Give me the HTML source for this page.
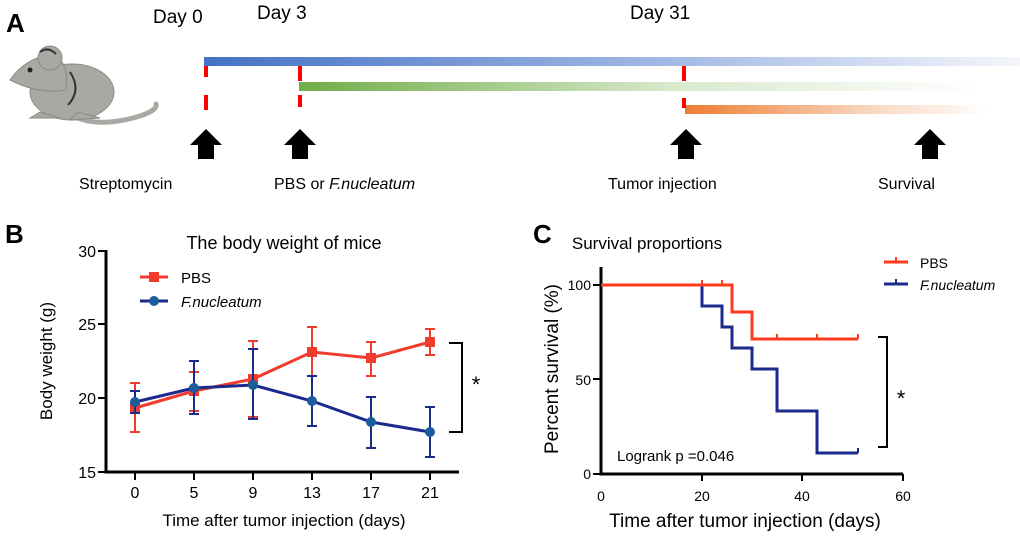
<!DOCTYPE html>
<html><head><meta charset="utf-8"><style>
html,body{margin:0;padding:0;background:#fff;}
svg{display:block;font-family:"Liberation Sans",sans-serif;}
</style></head><body>
<svg width="1020" height="536" viewBox="0 0 1020 536" xmlns="http://www.w3.org/2000/svg">
<defs>
<linearGradient id="gb" x1="0" x2="1"><stop offset="0" stop-color="#4472c4"/><stop offset="0.6" stop-color="#a8bde6"/><stop offset="1" stop-color="#f4f6fb"/></linearGradient>
<linearGradient id="gg" x1="0" x2="1"><stop offset="0" stop-color="#70ad47"/><stop offset="0.55" stop-color="#d8e9cd"/><stop offset="1" stop-color="#ffffff"/></linearGradient>
<linearGradient id="go" x1="0" x2="1"><stop offset="0" stop-color="#ed7d31"/><stop offset="0.6" stop-color="#f8d6bf"/><stop offset="1" stop-color="#ffffff"/></linearGradient>
</defs>
<!-- Panel A -->
<text x="6" y="32" font-size="26" font-weight="bold">A</text>
<text x="153" y="23" font-size="19">Day 0</text>
<text x="257" y="19" font-size="19">Day 3</text>
<text x="630" y="19" font-size="19">Day 31</text>
<!-- mouse -->
<path d="M75,117 Q100,128 140,116 Q158,110 156,104" fill="none" stroke="#a9a9a4" stroke-width="5" stroke-linecap="round"/>
<g fill="#a9a9a4" stroke="#8a8a86" stroke-width="1">
<ellipse cx="72" cy="92" rx="42" ry="28"/>
<path d="M10,80 Q25,58 52,54 Q70,62 66,90 Q40,95 10,80Z"/>
<ellipse cx="50" cy="58" rx="12" ry="12"/>
<path d="M40,112 L30,118 L60,118 Z"/>
<path d="M78,112 L70,120 L100,118 Z"/>
</g>
<path d="M40,52 Q48,46 56,54" fill="none" stroke="#333" stroke-width="2"/>
<path d="M70,72 Q82,90 68,105" fill="none" stroke="#333" stroke-width="2"/>
<circle cx="30" cy="70" r="2.5" fill="#222"/>
<!-- bars -->
<rect x="204" y="57" width="816" height="9" fill="url(#gb)"/>
<rect x="299" y="82" width="680" height="9" fill="url(#gg)"/>
<rect x="685" y="105" width="305" height="9" fill="url(#go)"/>
<g fill="#ff0000">
<rect x="204" y="66" width="4" height="11"/><rect x="204" y="95" width="4" height="15"/>
<rect x="298" y="66" width="4" height="15"/><rect x="298" y="95" width="4" height="12"/>
<rect x="682" y="66" width="4" height="15"/><rect x="682" y="98" width="4" height="10"/>
</g>
<g fill="#000">
<path d="M190,145 L206,129 L222,145 L214,145 L214,159 L198,159 L198,145Z"/>
<path d="M284,145 L300,129 L316,145 L308,145 L308,159 L292,159 L292,145Z"/>
<path d="M670,145 L686,129 L702,145 L694,145 L694,159 L678,159 L678,145Z"/>
<path d="M914,145 L930,129 L946,145 L938,145 L938,159 L922,159 L922,145Z"/>
</g>
<g font-size="16">
<text x="79" y="189">Streptomycin</text>
<text x="274" y="189">PBS or <tspan font-style="italic">F.nucleatum</tspan></text>
<text x="608" y="189">Tumor injection</text>
<text x="878" y="189">Survival</text>
</g>
<!-- Panel B -->
<text x="5" y="243" font-size="26" font-weight="bold">B</text>
<text x="284" y="249" font-size="18" text-anchor="middle">The body weight of mice</text>
<g stroke="#000" stroke-width="3" fill="none">
<path d="M106,250 V472 H459"/>
</g>
<g stroke="#000" stroke-width="2">
<line x1="98" y1="251" x2="106" y2="251"/><line x1="98" y1="324" x2="106" y2="324"/><line x1="98" y1="398" x2="106" y2="398"/><line x1="98" y1="472" x2="106" y2="472"/>
<line x1="135" y1="472" x2="135" y2="480"/><line x1="194" y1="472" x2="194" y2="480"/><line x1="253" y1="472" x2="253" y2="480"/><line x1="312" y1="472" x2="312" y2="480"/><line x1="371" y1="472" x2="371" y2="480"/><line x1="430" y1="472" x2="430" y2="480"/>
</g>
<g font-size="16" text-anchor="end">
<text x="96" y="257">30</text><text x="96" y="330">25</text><text x="96" y="404">20</text><text x="96" y="478">15</text>
</g>
<g font-size="16" text-anchor="middle">
<text x="135" y="498">0</text><text x="194" y="498">5</text><text x="253" y="498">9</text><text x="312" y="498">13</text><text x="371" y="498">17</text><text x="430" y="498">21</text>
</g>
<text x="284" y="526" font-size="17" text-anchor="middle">Time after tumor  injection (days)</text>
<text transform="translate(52,361) rotate(-90)" font-size="17" text-anchor="middle">Body weight (g)</text>
<!-- legend B -->
<line x1="140" y1="277" x2="168" y2="277" stroke="#f03c2c" stroke-width="3"/><rect x="149" y="272" width="10" height="10" fill="#f03c2c"/>
<text x="181" y="283" font-size="15">PBS</text>
<line x1="140" y1="301" x2="168" y2="301" stroke="#1a2b8c" stroke-width="3"/><circle cx="154" cy="301" r="5" fill="#1a5c9c"/>
<text x="181" y="307" font-size="15" font-style="italic">F.nucleatum</text>
<!-- PBS -->
<g stroke="#f03c2c" stroke-width="2" fill="none">
<path d="M135,432V383M130,432h10M130,383h10"/>
<path d="M194,411V372M189,411h10M189,372h10"/>
<path d="M253,417V341M248,417h10M248,341h10"/>
<path d="M312,376V327M307,376h10M307,327h10"/>
<path d="M371,376V342M366,376h10M366,342h10"/>
<path d="M430,355V329M425,355h10M425,329h10"/>
</g>
<polyline points="135,408 194,391 253,379 312,352 371,358 430,342" fill="none" stroke="#f03c2c" stroke-width="3"/>
<g fill="#f03c2c">
<rect x="130" y="403" width="10" height="10"/><rect x="189" y="386" width="10" height="10"/><rect x="248" y="374" width="10" height="10"/><rect x="307" y="347" width="10" height="10"/><rect x="366" y="353" width="10" height="10"/><rect x="425" y="337" width="10" height="10"/>
</g>
<!-- FN -->
<g stroke="#1a2b8c" stroke-width="2" fill="none">
<path d="M135,413V391M130,413h10M130,391h10"/>
<path d="M194,414V361M189,414h10M189,361h10"/>
<path d="M253,419V349M248,419h10M248,349h10"/>
<path d="M312,426V376M307,426h10M307,376h10"/>
<path d="M371,448V397M366,448h10M366,397h10"/>
<path d="M430,457V407M425,457h10M425,407h10"/>
</g>
<polyline points="135,402 194,388 253,385 312,401 371,422 430,432" fill="none" stroke="#1a2b8c" stroke-width="3"/>
<g fill="#1a5c9c">
<circle cx="135" cy="402" r="5"/><circle cx="194" cy="388" r="5"/><circle cx="253" cy="385" r="5"/><circle cx="312" cy="401" r="5"/><circle cx="371" cy="422" r="5"/><circle cx="430" cy="432" r="5"/>
</g>
<path d="M449,343H462V432H449" fill="none" stroke="#000" stroke-width="2"/>
<text x="476" y="392" font-size="22" text-anchor="middle">*</text>
<!-- Panel C -->
<text x="533" y="243" font-size="26" font-weight="bold">C</text>
<text x="647" y="249" font-size="17" text-anchor="middle">Survival proportions</text>
<path d="M601,267V474H903" fill="none" stroke="#000" stroke-width="3"/>
<g stroke="#000" stroke-width="2">
<line x1="593" y1="285" x2="601" y2="285"/><line x1="593" y1="379" x2="601" y2="379"/><line x1="593" y1="474" x2="601" y2="474"/>
<line x1="702" y1="474" x2="702" y2="481"/><line x1="802" y1="474" x2="802" y2="481"/><line x1="903" y1="474" x2="903" y2="481"/>
</g>
<g font-size="14" text-anchor="end">
<text x="591" y="290">100</text><text x="591" y="385">50</text><text x="591" y="479">0</text>
</g>
<g font-size="14" text-anchor="middle">
<text x="601" y="501">0</text><text x="702" y="501">20</text><text x="802" y="501">40</text><text x="903" y="501">60</text>
</g>
<text x="745" y="527" font-size="19" text-anchor="middle">Time after tumor  injection (days)</text>
<text transform="translate(558,369) rotate(-90)" font-size="19" text-anchor="middle">Percent survival  (%)</text>
<text x="617" y="461" font-size="15">Logrank p =0.046</text>
<path d="M601,285H702V306H722V327H732V348H752V369H777V411H817V453H858" fill="none" stroke="#1a2b8c" stroke-width="3"/>
<path d="M601,285H732V312H752V339H858" fill="none" stroke="#ff3a1e" stroke-width="3"/>
<g stroke="#ff3a1e" stroke-width="2">
<line x1="702" y1="280" x2="702" y2="285"/><line x1="722" y1="280" x2="722" y2="285"/><line x1="777" y1="334" x2="777" y2="339"/><line x1="817" y1="334" x2="817" y2="339"/><line x1="858" y1="334" x2="858" y2="339"/>
</g>
<line x1="858" y1="448" x2="858" y2="453" stroke="#1a2b8c" stroke-width="2"/>
<line x1="884" y1="262" x2="908" y2="262" stroke="#ff3a1e" stroke-width="3"/><line x1="896" y1="257" x2="896" y2="262" stroke="#ff3a1e" stroke-width="2"/>
<text x="920" y="268" font-size="14">PBS</text>
<line x1="884" y1="284" x2="908" y2="284" stroke="#1a2b8c" stroke-width="3"/><line x1="896" y1="279" x2="896" y2="284" stroke="#1a2b8c" stroke-width="2"/>
<text x="920" y="290" font-size="14" font-style="italic">F.nucleatum</text>
<path d="M878,337H887V447H878" fill="none" stroke="#000" stroke-width="2"/>
<text x="901" y="406" font-size="22" text-anchor="middle">*</text>
</svg>
</body></html>
